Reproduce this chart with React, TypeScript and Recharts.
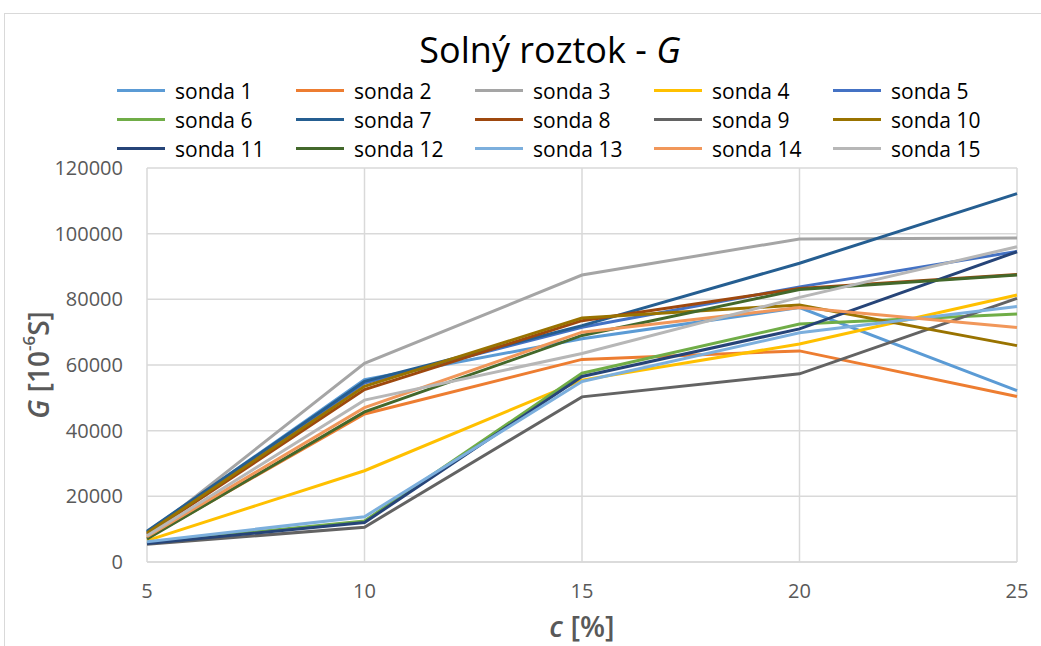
import React from "react";
import {
  LineChart,
  Line,
  XAxis,
  YAxis,
  CartesianGrid,
} from "recharts";

// concentration c [%]
const concentrations = [5, 10, 15, 20, 25];
const yTicks = [0, 20000, 40000, 60000, 80000, 100000, 120000];

// G [10^-6 S] per probe
const sonda1 = [9200, 55500, 68000, 77500, 52200];
const sonda2 = [7300, 45100, 61700, 64300, 50400];
const sonda3 = [8300, 60500, 87400, 98400, 98700];
const sonda4 = [6500, 27800, 55400, 66400, 81300];
const sonda5 = [9000, 54500, 71500, 83800, 94600];
const sonda6 = [5900, 12500, 57500, 72500, 75500];
const sonda7 = [9400, 55000, 72000, 91000, 112200];
const sonda8 = [8500, 52500, 73500, 83300, 87600];
const sonda9 = [5400, 10600, 50300, 57300, 80300];
const sonda10 = [8800, 53500, 74300, 78300, 65900];
const sonda11 = [5600, 12000, 56500, 71000, 94500];
const sonda12 = [7000, 45700, 69000, 83000, 87400];
const sonda13 = [6200, 13800, 55000, 69800, 77800];
const sonda14 = [7700, 47000, 70000, 77500, 71400];
const sonda15 = [8000, 49300, 63500, 80600, 96000];

const seriesValues = [
  sonda1, sonda2, sonda3, sonda4, sonda5,
  sonda6, sonda7, sonda8, sonda9, sonda10,
  sonda11, sonda12, sonda13, sonda14, sonda15,
];
const seriesNames = seriesValues.map((_, i) => `sonda ${i + 1}`);
const colors = [
  "#5B9BD5", "#ED7D31", "#A5A5A5", "#FFC000", "#4472C4",
  "#70AD47", "#255E91", "#9E480E", "#636363", "#997300",
  "#264478", "#43682B", "#7CAFDD", "#F1975A", "#B7B7B7",
];

const data = concentrations.map((c, i) => {
  const row: Record<string, number> = { c };
  seriesValues.forEach((vals, s) => {
    row[`s${s + 1}`] = vals[i];
  });
  return row;
});

const FONT = "'Open Sans', sans-serif";
const AXIS_GRAY = "#595959";
const GRID = "#D9D9D9";

const LegendGrid = () => (
  <div
    style={{
      position: "absolute",
      left: 117,
      top: 76,
      display: "grid",
      gridTemplateColumns: "repeat(5, 179px)",
      fontFamily: FONT,
      fontSize: 21,
      color: "#000",
    }}
  >
    {seriesNames.map((name, i) => (
      <div
        key={name}
        style={{ display: "flex", alignItems: "center", height: 29 }}
      >
        <span
          style={{
            display: "inline-block",
            width: 48,
            height: 3,
            background: colors[i],
            marginRight: 10,
          }}
        />
        <span>{name}</span>
      </div>
    ))}
  </div>
);

const YTitle = (props: any) => {
  const { viewBox } = props;
  const cx = 38;
  const cy = viewBox.y + viewBox.height / 2;
  return (
    <text
      x={cx}
      y={cy}
      transform={`rotate(-90, ${cx}, ${cy})`}
      textAnchor="middle"
      dominantBaseline="central"
      fill={AXIS_GRAY}
      fontFamily={FONT}
      fontSize={28}
      fontWeight={600}
    >
      <tspan fontStyle="italic">G</tspan>
      <tspan> [10</tspan>
      <tspan dy={-10} fontSize={17}>-6</tspan>
      <tspan dy={10}>S]</tspan>
    </text>
  );
};

const XTitle = (props: any) => {
  const { viewBox } = props;
  const cx = viewBox.x + viewBox.width / 2;
  return (
    <text
      x={cx}
      y={625}
      textAnchor="middle"
      dominantBaseline="central"
      fill={AXIS_GRAY}
      fontFamily={FONT}
      fontSize={29}
      fontWeight={600}
    >
      <tspan fontStyle="italic">c</tspan>
      <tspan> [%]</tspan>
    </text>
  );
};

export default function App() {
  return (
    <div
      style={{
        position: "fixed",
        left: 0,
        top: 0,
        width: 1041,
        height: 646,
        overflow: "hidden",
        background: "#fff",
      }}
    >
      {/* chart frame */}
      <div
        style={{
          position: "absolute",
          left: 4,
          top: 13,
          width: 1060,
          height: 660,
          border: `1px solid ${GRID}`,
        }}
      />
      {/* Title */}
      <div
        style={{
          position: "absolute",
          top: 27,
          left: 0,
          width: 1100,
          textAlign: "center",
          fontFamily: FONT,
          fontSize: 36,
          color: "#000",
          lineHeight: "46px",
        }}
      >
        Solný roztok - <i>G</i>
      </div>

      <LegendGrid />

      <div style={{ position: "absolute", left: 0, top: 0 }}>
        <LineChart
          width={1041}
          height={646}
          data={data}
          margin={{ top: 168, right: 24, bottom: 0, left: 0 }}
        >
          <CartesianGrid stroke={GRID} strokeWidth={1.5} />
          <XAxis
            dataKey="c"
            type="number"
            domain={[5, 25]}
            ticks={concentrations}
            height={84}
            tickSize={0}
            tickMargin={22}
            axisLine={{ stroke: GRID, strokeWidth: 1.5 }}
            tick={{ fontSize: 20, fill: AXIS_GRAY, fontFamily: FONT }}
            label={<XTitle />}
          />
          <YAxis
            domain={[0, 120000]}
            ticks={yTicks}
            width={147}
            tickSize={0}
            tickMargin={24}
            axisLine={false}
            tick={{ fontSize: 20, fill: AXIS_GRAY, fontFamily: FONT }}
            label={<YTitle />}
          />
          {seriesNames.map((name, i) => (
            <Line
              key={name}
              name={name}
              dataKey={`s${i + 1}`}
              type="linear"
              stroke={colors[i]}
              strokeWidth={3}
              dot={false}
              isAnimationActive={false}
            />
          ))}
        </LineChart>
      </div>
    </div>
  );
}
